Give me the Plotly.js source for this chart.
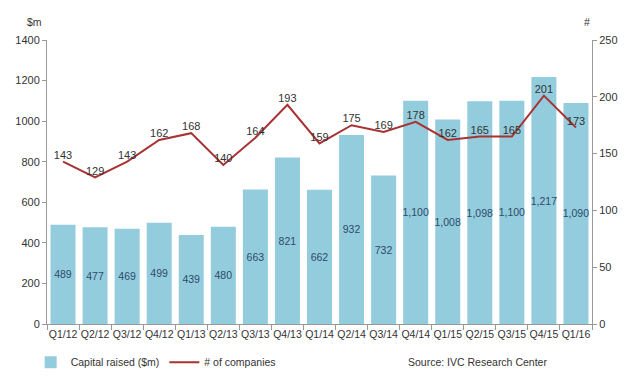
<!DOCTYPE html>
<html><head><meta charset="utf-8">
<script src="https://cdn.plot.ly/plotly-3.0.1.min.js"></script>
<style>html,body{margin:0;padding:0;background:#fff}#c{width:631px;height:378px}</style>
</head><body><div id="c"></div>
<script>
var quarters = ["Q1/12","Q2/12","Q3/12","Q4/12","Q1/13","Q2/13","Q3/13","Q4/13","Q1/14","Q2/14","Q3/14","Q4/14","Q1/15","Q2/15","Q3/15","Q4/15","Q1/16"];
var capital = [489,477,469,499,439,480,663,821,662,932,732,1100,1008,1098,1100,1217,1090];
var companies = [143,129,143,162,168,140,164,193,159,175,169,178,162,165,165,201,173];

var font = "Liberation Sans, Arial, sans-serif";
var fs = 10.5;
var bars = {
  type: "bar", x: quarters, y: capital, name: "Capital raised ($m)",
  marker: {color: "#93CDDD"},
  text: capital.map(function(v){return v.toLocaleString("en-US");}),
  textposition: "inside", insidetextanchor: "middle", textangle: 0,
  constraintext: "none",
  textfont: {family: font, size: fs, color: "#2E4A6A"},
  hoverinfo: "skip"
};
var line = {
  type: "scatter", mode: "lines+text", x: quarters, y: companies, yaxis: "y2",
  name: "# of companies",
  line: {color: "#A83232", width: 2},
  text: companies.map(String), textposition: "top center", cliponaxis: false,
  textfont: {family: font, size: fs + 0.5, color: "#333"},
  hoverinfo: "skip"
};
var layout = {
  width: 631, height: 378,
  margin: {l: 47, r: 39, t: 40, b: 54, autoexpand: false},
  paper_bgcolor: "#fff", plot_bgcolor: "#fff",
  font: {family: font, size: fs, color: "#333"},
  bargap: 0.22,
  showlegend: true,
  legend: {orientation: "h", x: -0.03, xanchor: "left", y: -0.135, yanchor: "middle",
           font: {family: font, size: fs, color: "#333"}, traceorder: "normal", itemwidth: 30},
  xaxis: {type: "category", range: [-0.5, quarters.length - 0.5], showline: true, linecolor: "#999",
          ticks: "outside", tickson: "boundaries",
          ticklen: 5, tickcolor: "#999", showgrid: false, zeroline: false, tickangle: 0, automargin: false,
          tickfont: {family: font, size: fs, color: "#333"}},
  yaxis: {range: [0, 1400], dtick: 200, showline: true, linecolor: "#999", ticks: "outside",
          ticklen: 4, tickcolor: "#999", showgrid: false, zeroline: false, automargin: false,
          tickfont: {family: font, size: fs + 0.5, color: "#333"}},
  yaxis2: {range: [0, 250], dtick: 50, overlaying: "y", side: "right", showline: true, linecolor: "#999",
           ticks: "outside", ticklen: 4, tickcolor: "#999", showgrid: false, zeroline: false, automargin: false,
           tickfont: {family: font, size: fs + 0.5, color: "#333"}},
  annotations: [
    {text: "$m", xref: "paper", yref: "paper", x: -0.005, y: 1.065, xanchor: "right", yanchor: "middle", showarrow: false,
     font: {family: font, size: fs, color: "#333"}},
    {text: "#", xref: "paper", yref: "paper", x: 1.0, y: 1.065, xanchor: "right", yanchor: "middle", showarrow: false,
     font: {family: font, size: fs, color: "#333"}},
    {text: "Source: IVC Research Center", xref: "paper", yref: "paper", x: 0.79, y: -0.135, xanchor: "center", yanchor: "middle", showarrow: false,
     font: {family: font, size: fs, color: "#333"}}
  ]
};
Plotly.newPlot("c", [bars, line], layout, {displayModeBar: false, staticPlot: true});
</script></body></html>
